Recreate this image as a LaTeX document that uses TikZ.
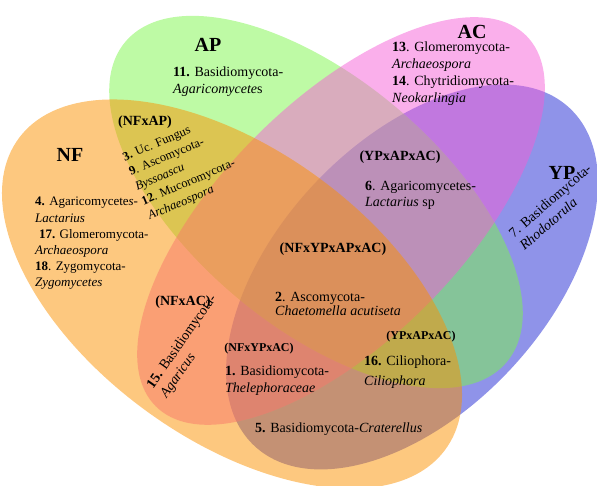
\documentclass[tikz,border=0pt]{standalone}
\usepackage{fontspec}
\setmainfont{Liberation Serif}

\definecolor{colorNF}{RGB}{251,145,0}
\definecolor{colorAP}{RGB}{125,245,75}
\definecolor{colorAC}{RGB}{245,95,215}
\definecolor{colorYP}{RGB}{31,39,211}

\tikzset{
  conjunto/.style={font=\fontsize{20}{24}\selectfont\bfseries},
  cruce/.style={font=\fontsize{14}{16}\selectfont\bfseries},
  crucechico/.style={font=\fontsize{12}{14}\selectfont\bfseries},
  lista/.style={align=left, inner sep=0pt, anchor=west, font=\fontsize{14}{16.5}\selectfont},
}

\begin{document}
\begin{tikzpicture}[x=1pt, y=1pt]
    \useasboundingbox (0,0) rectangle (597,486);

    % Centros de las elipses
    \coordinate (NF) at (232,192);
    \coordinate (AP) at (316,284);
    \coordinate (AC) at (341,265);
    \coordinate (YP) at (412,209);

    % Elipses (transparentes)
    \fill[colorYP, fill opacity=0.5, rotate around={47:(YP)}] (YP) ellipse [x radius=231, y radius=135];
    \fill[colorAP, fill opacity=0.5, rotate around={-40:(AP)}] (AP) ellipse [x radius=249, y radius=124];
    \fill[colorAC, fill opacity=0.5, rotate around={45:(AC)}] (AC) ellipse [x radius=262, y radius=120];
    \fill[colorNF, fill opacity=0.5, rotate around={-36:(NF)}] (NF) ellipse [x radius=264, y radius=145];

    % Nombres de los conjuntos
    \node[conjunto] (tAP) at (208,441) {AP};
    \node[conjunto] (tAC) at (472,454) {AC};
    \node[conjunto] (tYP) at (562,313) {YP};
    \node[conjunto] (tNF) at (70,331) {NF};

    % Intersecciones
    \node[cruce] (iNFAP) at (145,364) {(NFxAP)};
    \node[cruce] (iYPAPAC) at (400,329) {(YPxAPxAC)};
    \node[cruce] (iTodos) at (333,237) {(NFxYPxAPxAC)};
    \node[cruce] (iNFAC) at (183,184) {(NFxAC)};
    \node[crucechico] (iNFYPAC) at (259,137) {(NFxYPxAC)};
    \node[crucechico] (iYPAPACb) at (421,149) {(YPxAPxAC)};

    % Listas de hongos
    \node[lista] (l11) at (173,404.5) {\textbf{11.} Basidiomycota-\\\textit{Agaricomycete}s};
    \node[lista, font=\fontsize{14}{17}\selectfont] (l13) at (392,412)
        {\textbf{13}. Glomeromycota-\\\textit{Archaeospora}\\\textbf{14}. Chytridiomycota-\\\textit{Neokarlingia}};
    \node[lista, rotate=41] (l7) at (516,245) {7. Basidiomycota-\\\textit{Rhodotorula}};
    \node[lista, font=\fontsize{13}{16.2}\selectfont] (l4) at (35,242.5)
        {\textbf{4.} Agaricomycete\textit{s}-\\\textit{Lactarius}\\\hspace{0.3em}\textbf{17.} Glomeromycota-\\\textit{Archaeospora}\\\textbf{18}. Zygomycota-\\\textit{Zygomycetes}};
    \node[lista, rotate=23, font=\fontsize{12.5}{16}\selectfont] (l3) at (136,298)
        {\textbf{3.} Uc. Fungus\\\textbf{9}. Ascomycota-\\\textit{Byssoascu}\\\textbf{12}. Mucoromycota-\\\textit{Archaeospora}};
    \node[lista] (l6) at (365,290.5) {\textbf{6}. Agaricomycetes-\\\textit{Lactarius} sp};
    \node[lista, font=\fontsize{14}{14.5}\selectfont] (l2) at (275,182) {\textbf{2}. Ascomycota-\\\textit{Chaetomella acutiseta}};
    \node[lista, rotate=55] (l15) at (157,94) {\textbf{15.} Basidiomycota-\\\textit{Agaricus}};
    \node[lista] (l1) at (225,105.5) {\textbf{1.} Basidiomycota-\\\textit{Thelephoraceae}};
    \node[lista, font=\fontsize{14}{20}\selectfont] (l16) at (364,114) {\textbf{16.} Ciliophora-\\\textit{Ciliophora}};
    \node[lista] (l5) at (255,57) {\textbf{5.} Basidiomycota-\textit{Craterellus}};

\end{tikzpicture}
\end{document}
